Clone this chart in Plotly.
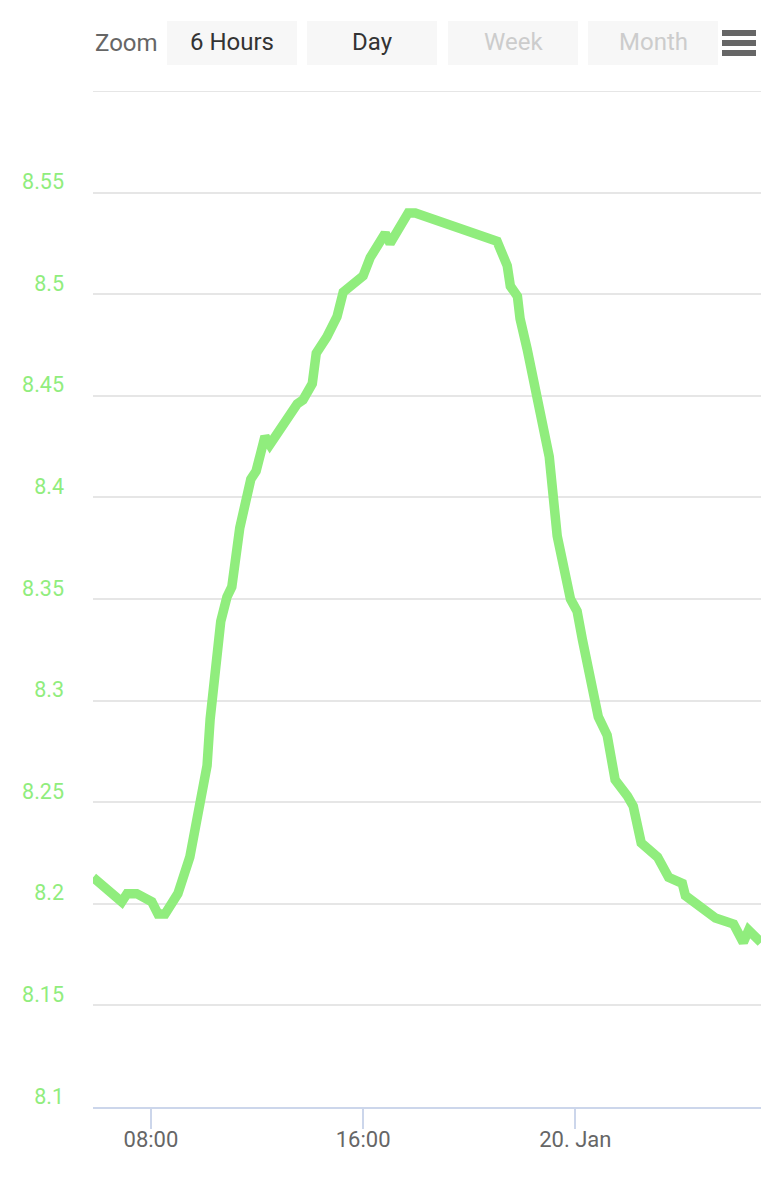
import plotly.graph_objects as go

# ---- data ----
times = [
    "2024-01-19 05:49", "2024-01-19 06:05", "2024-01-19 06:54", "2024-01-19 07:06",
    "2024-01-19 07:28", "2024-01-19 08:02", "2024-01-19 08:16", "2024-01-19 08:32",
    "2024-01-19 09:01", "2024-01-19 09:28", "2024-01-19 09:51", "2024-01-19 10:07",
    "2024-01-19 10:14", "2024-01-19 10:27", "2024-01-19 10:38", "2024-01-19 10:52",
    "2024-01-19 11:03", "2024-01-19 11:21", "2024-01-19 11:46", "2024-01-19 11:58",
    "2024-01-19 12:18", "2024-01-19 12:29", "2024-01-19 13:31", "2024-01-19 13:44",
    "2024-01-19 14:05", "2024-01-19 14:14", "2024-01-19 14:38", "2024-01-19 15:01",
    "2024-01-19 15:15", "2024-01-19 16:00", "2024-01-19 16:16", "2024-01-19 16:50",
    "2024-01-19 17:01", "2024-01-19 17:42", "2024-01-19 17:58", "2024-01-19 21:03",
    "2024-01-19 21:26", "2024-01-19 21:33", "2024-01-19 21:49", "2024-01-19 21:55",
    "2024-01-19 22:11", "2024-01-19 23:01", "2024-01-19 23:08", "2024-01-19 23:19",
    "2024-01-19 23:49", "2024-01-20 00:04", "2024-01-20 00:16", "2024-01-20 00:52",
    "2024-01-20 01:12", "2024-01-20 01:30", "2024-01-20 01:58", "2024-01-20 02:11",
    "2024-01-20 02:29", "2024-01-20 03:06", "2024-01-20 03:31", "2024-01-20 04:02",
    "2024-01-20 04:09", "2024-01-20 04:36", "2024-01-20 05:17", "2024-01-20 05:58",
    "2024-01-20 06:20", "2024-01-20 06:32", "2024-01-20 07:00",
]
values = [
    8.213, 8.210, 8.201, 8.205,
    8.205, 8.201, 8.195, 8.195,
    8.205, 8.223, 8.251, 8.268,
    8.291, 8.315, 8.339, 8.351,
    8.356, 8.385, 8.409, 8.413,
    8.430, 8.426, 8.446, 8.448,
    8.456, 8.471, 8.479, 8.489,
    8.501, 8.509, 8.518, 8.530,
    8.525, 8.540, 8.540, 8.526,
    8.514, 8.504, 8.499, 8.488,
    8.473, 8.420, 8.401, 8.381,
    8.350, 8.344, 8.330, 8.292,
    8.283, 8.261, 8.253, 8.248,
    8.230, 8.223, 8.213, 8.210,
    8.204, 8.200, 8.193, 8.190,
    8.181, 8.187, 8.181,
]

x_tick_vals = ["2024-01-19 08:00", "2024-01-19 16:00", "2024-01-20 00:00"]
x_tick_text = ["08:00", "16:00", "20. Jan"]
y_tick_vals = [8.1, 8.15, 8.2, 8.25, 8.3, 8.35, 8.4, 8.45, 8.5, 8.55]
y_tick_text = ["8.1", "8.15", "8.2", "8.25", "8.3", "8.35", "8.4", "8.45", "8.5", "8.55"]
y_min, y_max = 8.1, 8.6

zoom_buttons = ["6 Hours", "Day", "Week", "Month"]
zoom_enabled = [True, True, False, False]

# ---- layout geometry (pixels) ----
W, H = 781, 1200
L, R, T, B = 93, 20, 91, 93
PW, PH = W - L - R, H - T - B

def px(x):
    return (x - L) / PW

def py(y):
    return (H - B - y) / PH

GREEN = "#90ed7d"
FONT = "Roboto"

fig = go.Figure()
fig.add_trace(go.Scatter(
    x=times, y=values, mode="lines",
    line=dict(color=GREEN, width=9.5, shape="linear"),
    hoverinfo="skip", showlegend=False,
))

shapes = []
annotations = []

# top grid line at the upper end of the y range
shapes.append(dict(
    type="line", xref="paper", yref="y", x0=0, x1=1, y0=y_max, y1=y_max,
    line=dict(color="#e6e6e6", width=2), layer="below",
))

# "Zoom" label
annotations.append(dict(
    x=px(93), y=py(43), xref="paper", yref="paper", text="Zoom",
    showarrow=False, xanchor="left", yanchor="middle",
    font=dict(family=FONT, size=24, color="#666666"),
))
btn_left = [167, 307, 448, 588]
for label, enabled, bl in zip(zoom_buttons, zoom_enabled, btn_left):
    shapes.append(dict(
        type="rect", xref="paper", yref="paper",
        x0=px(bl), x1=px(bl + 130), y0=py(65), y1=py(21),
        fillcolor="#f7f7f7", line=dict(width=0), layer="below",
    ))
    annotations.append(dict(
        x=px(bl + 65), y=py(42), xref="paper", yref="paper", text=label,
        showarrow=False, xanchor="center", yanchor="middle",
        font=dict(family=FONT, size=24, color="#333333" if enabled else "#cccccc"),
    ))
# hamburger menu
for yy in [33, 43, 53]:
    shapes.append(dict(
        type="rect", xref="paper", yref="paper",
        x0=px(722), x1=px(756), y0=py(yy + 3), y1=py(yy - 3),
        fillcolor="#666666", line=dict(width=0),
    ))

fig.update_layout(
    width=W, height=H,
    margin=dict(l=L, r=R, t=T, b=B, pad=0),
    paper_bgcolor="white", plot_bgcolor="white",
    font=dict(family=FONT),
    shapes=shapes, annotations=annotations,
    showlegend=False,
    xaxis=dict(
        type="date",
        range=[times[0], times[-1]],
        tickvals=x_tick_vals, ticktext=x_tick_text,
        showgrid=False, zeroline=False,
        showline=True, linecolor="#ccd6eb", linewidth=2,
        ticks="outside", ticklen=20, tickwidth=2, tickcolor="#ccd6eb",
        tickfont=dict(family=FONT, size=22, color="#666666"),
        ticklabelstandoff=-8,
        fixedrange=True,
    ),
    yaxis=dict(
        range=[y_min, y_max],
        tickvals=y_tick_vals, ticktext=y_tick_text,
        showgrid=True, gridcolor="#e6e6e6", gridwidth=2,
        zeroline=False, showline=False, ticks="",
        tickfont=dict(family=FONT, size=21.5, color=GREEN),
        ticklabelshift=-11, ticklabelstandoff=28,
        fixedrange=True,
    ),
)

fig.write_html("out.html")
